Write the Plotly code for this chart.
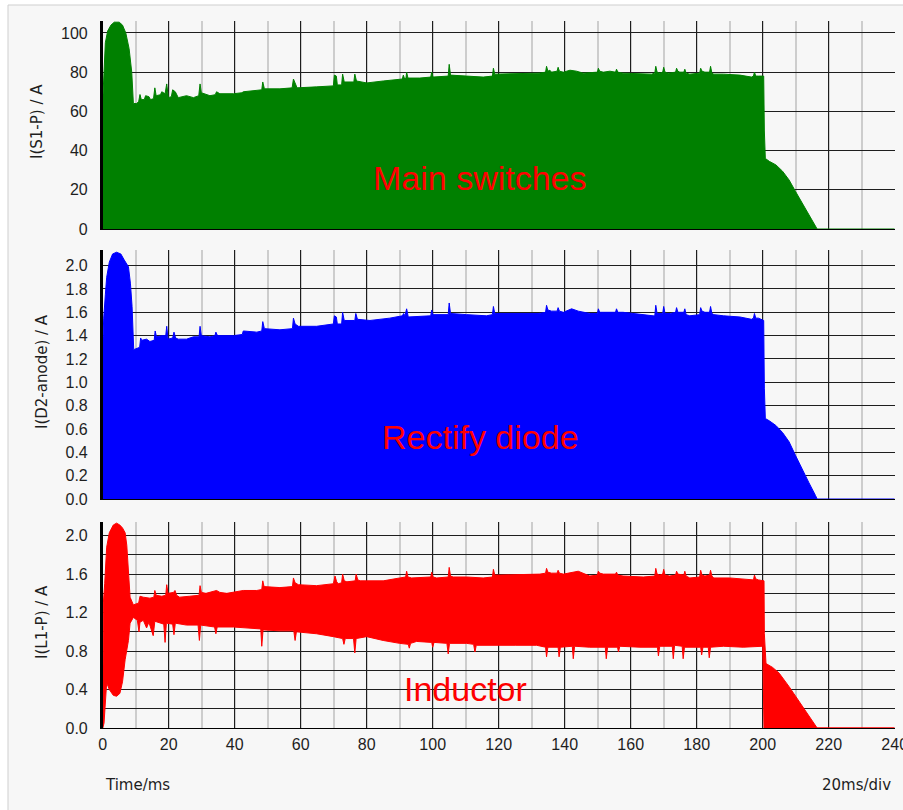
import plotly.graph_objects as go

# ---------------- data ----------------
# Panel 1: I(S1-P) upper envelope (A) vs time (ms)
s1_time = [0, 0.3, 0.8, 1.5, 2.5, 3.5, 5.0, 6.0, 7.0, 8.0, 8.8, 9.3, 10.3, 10.9, 11.3, 11.7, 12.6, 13.0, 14.0, 14.5,
           15.4, 15.8, 16.2, 17.5, 17.9, 18.9, 19.4, 19.9, 20.8, 21.2, 22.0, 22.9, 25.4, 27.5, 29.1, 29.5, 29.9, 32.5,
           34.1, 34.5, 35.5, 39.6, 42.2, 42.6, 46.7, 48.2, 48.5, 49.0, 53.7, 57.4, 57.8, 58.4, 58.9, 64.8, 69.9, 70.2,
           70.8, 71.1, 72.4, 72.7, 73.2, 76.1, 76.4, 76.9, 80, 85, 88, 90.8, 91.1, 91.5, 91.9, 92.1, 92.5, 96.1, 99.4,
           99.7, 100.1, 104.7, 105, 105.4, 110.3, 115.3, 118.1, 118.4, 118.8, 132.2, 134.2, 134.5, 134.9, 135.5, 136,
           137.7, 138, 138.4, 139.6, 141.6, 143.6, 145.6, 149.9, 150.2, 150.6, 151.7, 153.7, 155.4, 155.7, 156.1,
           157.7, 162.8, 166.3, 167.3, 167.6, 168.0, 168.8, 169.7, 170, 170.4, 171.4, 173.6, 173.9, 174.3, 174.9,
           176.1, 176.4, 176.8, 177.9, 180.9, 181.2, 181.6, 182.5, 183.9, 184.2, 184.6, 185.2, 188.1, 193.1, 196.6,
           197.2, 197.5, 197.9, 198.7, 200.3, 200.5, 200.8, 202, 204, 206, 208, 210, 212, 214, 216, 216.5, 240]
s1_current = [65, 78, 95, 101, 104, 105.5, 105.5, 104, 100, 92, 80, 64, 64, 65, 68.6, 66, 66, 68, 67.5, 66,
              66.5, 72, 68, 68.5, 70, 69, 74, 67, 67.5, 71, 70, 67, 68, 67, 68, 74, 69.5, 68,
              68.5, 70, 69, 69, 69.5, 70, 70.5, 71, 75, 71.5, 71.5, 72, 76.5, 74, 72, 72.5, 73, 78.5,
              78, 73.5, 73.5, 79, 75, 75, 79, 75.5, 74.5, 75.5, 76, 76.5, 78.5, 76.5, 77, 80, 77, 77, 77.5,
              80, 77.5, 78, 84, 78.5, 78, 77.5, 78, 82, 79, 79.5, 80, 83, 80.5, 81, 80,
              80.5, 82.5, 80.5, 80, 81, 80.5, 79.5, 80, 82, 80.5, 80, 80.5, 80, 81.5, 80,
              79.5, 79, 79, 79.5, 83, 80, 79.5, 80, 82.5, 80, 79.5, 80, 82, 80.5, 80,
              80, 81.5, 79.5, 79, 79.5, 82, 80.5, 80, 80, 83, 79.5, 79, 79, 78.5, 77.5,
              78, 80, 78, 78, 78, 50, 36, 34.5, 32.7, 29.5, 25, 19, 13, 7.5, 1.5, 0, 0]

# Panel 2: I(D2-anode) upper envelope (A)
d2_time = [0, 0.3, 0.8, 1.2, 2.0, 3.0, 4.2, 5.5, 6.5, 7.8, 8.4, 8.9, 9.4, 10.5, 11.2, 11.5, 11.8, 13.3, 14.3, 15.6,
           15.9, 16.3, 17.9, 19.1, 19.4, 19.8, 21.2, 21.6, 22.1, 22.9, 25.4, 27.5, 29.2, 29.5, 29.9, 32.5, 34.0, 34.3,
           34.8, 39.6, 42.3, 42.6, 46.7, 48.2, 48.5, 49.0, 53.7, 57.5, 57.8, 58.3, 59.3, 64.8, 69.9, 70.2, 70.8, 71.1,
           72.4, 72.7, 73.2, 76.4, 76.7, 77.2, 81, 87, 90.8, 91.2, 91.6, 92.1, 92.6, 99.4, 99.7, 100.1, 104.7, 105,
           105.4, 110.3, 116.3, 118.1, 118.4, 118.8, 132.2, 134.2, 134.5, 134.9, 136, 137.7, 138, 138.4, 139.6, 142.1,
           144.1, 147.6, 149.9, 150.2, 150.6, 152.2, 155.4, 155.7, 156.1, 157.7, 162.8, 166.8, 167.3, 167.6, 168.0,
           169.7, 170, 170.4, 172, 173.6, 173.9, 174.3, 176.1, 176.4, 176.8, 177.9, 180.9, 181.2, 181.6, 182.5, 183.9,
           184.2, 184.6, 185.2, 188.1, 193.1, 196.6, 197.2, 197.5, 197.9, 198.7, 200.3, 200.5, 200.8, 202, 204, 206,
           208, 210, 212, 214, 216, 216.5, 240]
d2_current = [1.30, 1.55, 1.75, 1.90, 2.03, 2.10, 2.115, 2.10, 2.05, 1.99, 1.85, 1.65, 1.28, 1.29, 1.30, 1.38, 1.36,
              1.37, 1.35, 1.36, 1.44, 1.39, 1.40, 1.40, 1.48, 1.37, 1.38, 1.43, 1.38, 1.37, 1.37, 1.39, 1.39, 1.48,
              1.40, 1.39, 1.40, 1.43, 1.40, 1.40, 1.41, 1.44, 1.43, 1.44, 1.52, 1.46, 1.45, 1.46, 1.55, 1.50, 1.48,
              1.48, 1.50, 1.57, 1.56, 1.50, 1.50, 1.60, 1.53, 1.53, 1.59, 1.54, 1.53, 1.55, 1.57, 1.59, 1.57, 1.63,
              1.56, 1.57, 1.62, 1.58, 1.58, 1.68, 1.59, 1.58, 1.57, 1.58, 1.65, 1.59, 1.59, 1.60, 1.66, 1.62, 1.61,
              1.61, 1.64, 1.61, 1.60, 1.63, 1.61, 1.59, 1.59, 1.63, 1.60, 1.60, 1.60, 1.63, 1.60, 1.60, 1.58, 1.57,
              1.57, 1.66, 1.59, 1.59, 1.65, 1.59, 1.59, 1.60, 1.64, 1.60, 1.60, 1.63, 1.58, 1.57, 1.58, 1.64, 1.61,
              1.60, 1.60, 1.65, 1.59, 1.58, 1.57, 1.56, 1.54, 1.55, 1.59, 1.55, 1.55, 1.53, 0.95, 0.69, 0.67, 0.63,
              0.57, 0.49, 0.37, 0.25, 0.14, 0.03, 0, 0]

# Panel 3: I(L1-P) ripple band, upper and lower envelopes (A)
l1_time_hi = [0, 0.2, 0.6, 1.2, 2.0, 3.2, 4.2, 5.2, 6.0, 6.8, 7.3, 7.8, 8.3, 9.3, 10.9, 11.3, 12.3, 14.3, 15.5, 15.8,
              16.2, 17.9, 19.1, 19.4, 19.8, 21.5, 21.9, 22.4, 23.3, 26.3, 29.2, 29.5, 29.9, 31.3, 34.5, 35.5, 37.6,
              42.6, 46.7, 48.2, 48.5, 48.9, 53.7, 57.5, 57.8, 58.3, 59.3, 64.8, 69.9, 70.4, 70.9, 71.4, 72.4, 72.7,
              73.2, 74.0, 76.5, 76.8, 77.3, 78.0, 85.0, 90.0, 91.8, 92.1, 92.5, 93.6, 99.4, 99.7, 100.1, 101.2, 104.7,
              105.0, 105.4, 106.2, 110.3, 115.3, 118.1, 118.4, 118.8, 120.4, 132.5, 134.2, 134.5, 134.9, 136, 137.7,
              138, 138.4, 139.6, 144.1, 147.6, 149.9, 150.2, 150.6, 151.7, 155.4, 155.7, 156.1, 157.7, 163.8, 167.3,
              167.6, 168.0, 168.8, 169.7, 170, 170.4, 171.8, 173.6, 173.9, 174.3, 176.1, 176.4, 176.8, 177.9, 180.9,
              181.2, 181.6, 182.5, 183.9, 184.2, 184.6, 185.2, 190.0, 196.6, 197.2, 197.5, 197.9, 198.7, 200.4, 200.5,
              201.0, 203.0, 205.0, 208.0, 211.1, 214.1, 216.1, 216.5, 240]
l1_current_hi = [0.0, 1.30, 1.50, 1.88, 2.03, 2.11, 2.13, 2.11, 2.08, 2.03, 1.90, 1.68, 1.36, 1.28, 1.30, 1.37, 1.36,
                 1.35, 1.36, 1.43, 1.38, 1.37, 1.38, 1.49, 1.40, 1.41, 1.43, 1.38, 1.36, 1.37, 1.38, 1.48, 1.41, 1.40,
                 1.43, 1.41, 1.40, 1.43, 1.43, 1.44, 1.53, 1.47, 1.46, 1.47, 1.56, 1.51, 1.49, 1.48, 1.50, 1.58, 1.52,
                 1.50, 1.51, 1.60, 1.53, 1.52, 1.53, 1.60, 1.54, 1.53, 1.53, 1.56, 1.57, 1.63, 1.57, 1.56, 1.57, 1.62,
                 1.57, 1.56, 1.57, 1.67, 1.58, 1.57, 1.57, 1.56, 1.57, 1.65, 1.59, 1.59, 1.60, 1.61, 1.66, 1.62, 1.61,
                 1.61, 1.64, 1.61, 1.60, 1.63, 1.58, 1.59, 1.63, 1.61, 1.60, 1.60, 1.62, 1.59, 1.58, 1.57, 1.58, 1.66,
                 1.60, 1.59, 1.60, 1.65, 1.59, 1.58, 1.59, 1.63, 1.60, 1.59, 1.63, 1.58, 1.56, 1.57, 1.64, 1.59, 1.58,
                 1.59, 1.64, 1.58, 1.56, 1.56, 1.54, 1.54, 1.59, 1.55, 1.54, 1.53, 0.98, 0.67, 0.63, 0.57, 0.43, 0.27,
                 0.12, 0.015, 0, 0]
l1_time_lo = [0, 0.4, 0.8, 1.2, 2.0, 3.2, 4.2, 5.2, 6.0, 6.8, 7.8, 8.3, 9.3, 10.5, 11.0, 11.3, 12.3, 13.3, 14.0, 15.3,
              15.8, 18.5, 18.9, 19.3, 21.2, 21.6, 22.0, 25.4, 28.9, 29.3, 29.7, 33.9, 34.3, 34.7, 39.6, 44.7, 47.9,
              48.2, 48.6, 53.7, 57.9, 58.3, 58.7, 64.8, 69.9, 72.7, 73.1, 73.5, 76.0, 76.4, 76.8, 80.0, 85.0, 90.0,
              92.6, 92.9, 93.3, 95.1, 99.7, 100.0, 100.4, 104.3, 104.7, 105.1, 110.3, 112.4, 112.8, 113.2, 120.4, 125,
              131.5, 134.2, 134.5, 134.9, 138.0, 138.3, 138.7, 142.3, 142.6, 143.0, 147.6, 152.3, 152.6, 153.0, 156.0,
              156.3, 156.7, 162.8, 168.1, 168.4, 168.8, 172.6, 172.9, 173.3, 175.6, 175.9, 176.3, 181.2, 181.5, 181.9,
              183.5, 183.8, 184.2, 188.1, 194.1, 200.0, 200.4, 240]
l1_current_lo = [0, 0.05, 0.30, 0.47, 0.40, 0.34, 0.33, 0.36, 0.48, 0.71, 0.91, 1.09, 1.15, 1.12, 1.00, 1.10, 1.12,
                 1.04, 1.10, 0.96, 1.11, 1.08, 0.89, 1.09, 1.08, 0.97, 1.09, 1.07, 1.07, 0.91, 1.07, 1.05, 0.98, 1.05,
                 1.05, 1.04, 1.03, 0.85, 1.02, 1.01, 1.01, 0.91, 1.00, 0.98, 0.95, 0.93, 0.87, 0.93, 0.93, 0.78, 0.93,
                 0.95, 0.91, 0.88, 0.87, 0.83, 0.88, 0.90, 0.89, 0.84, 0.89, 0.88, 0.77, 0.88, 0.88, 0.87, 0.79, 0.86,
                 0.86, 0.86, 0.86, 0.84, 0.74, 0.84, 0.84, 0.74, 0.84, 0.85, 0.72, 0.85, 0.84, 0.84, 0.72, 0.84, 0.84,
                 0.79, 0.85, 0.84, 0.84, 0.75, 0.85, 0.85, 0.72, 0.86, 0.85, 0.72, 0.84, 0.84, 0.76, 0.84, 0.84, 0.73,
                 0.84, 0.85, 0.84, 0.85, 0, 0]

x_ticks = [0, 20, 40, 60, 80, 100, 120, 140, 160, 180, 200, 220, 240]
panel_titles = ["I(S1-P) / A", "I(D2-anode) / A", "I(L1-P) / A"]
panel_labels = ["Main switches", "Rectify diode", "Inductor"]

# ---------------- figure ----------------
W, H = 903, 810
GREEN, BLUE, RED = "#008000", "#0000ff", "#ff0000"
TICKFONT = dict(family="Tahoma, Liberation Sans, Arial", size=16, color="#1e1e1e")
TITLEFONT = dict(family="DejaVu Sans", size=15, color="#1e1e1e")


def fx(p):
    return p / W


def fy(p):
    return 1 - p / H


fig = go.Figure()

fig.add_trace(go.Scatter(x=s1_time, y=s1_current, mode="lines", line=dict(color=GREEN, width=1),
                         fill="tozeroy", fillcolor=GREEN, xaxis="x", yaxis="y", showlegend=False))
fig.add_trace(go.Scatter(x=d2_time, y=d2_current, mode="lines", line=dict(color=BLUE, width=1),
                         fill="tozeroy", fillcolor=BLUE, xaxis="x2", yaxis="y2", showlegend=False))
fig.add_trace(go.Scatter(x=l1_time_hi + l1_time_lo[::-1], y=l1_current_hi + l1_current_lo[::-1],
                         mode="lines", line=dict(color=RED, width=1), fill="toself", fillcolor=RED,
                         xaxis="x3", yaxis="y3", showlegend=False))

xdom = [fx(102.7), fx(894.7)]
ydoms = [[fy(229), fy(21)], [fy(499), fy(250)], [fy(728), fy(521.7)]]
yranges = [[0, 106.1], [0, 2.134], [0, 2.145]]

common_x = dict(range=[0, 240], tickmode="array", tickvals=x_ticks, showgrid=True, gridcolor="#1e1e1e",
                gridwidth=1.2, minor=dict(dtick=10, tick0=0, showgrid=True, gridcolor="#cdcdcd", gridwidth=1.5),
                showline=True, linecolor="#000000", linewidth=1, zeroline=False, layer="below traces",
                ticks="", tickfont=TICKFONT, fixedrange=True, domain=xdom, automargin=False)

layout_axes = {}
for i in range(3):
    sfx = "" if i == 0 else str(i + 1)
    xa = dict(common_x)
    xa["anchor"] = "y" + sfx
    xa["showticklabels"] = (i == 2)
    if i == 2:
        xa["ticklabelstandoff"] = 2
        xa["ticklabeloverflow"] = "allow"
    layout_axes["xaxis" + sfx] = xa
    ya = dict(range=yranges[i], domain=ydoms[i], anchor="x" + sfx, showgrid=True, gridcolor="#1e1e1e",
              gridwidth=1.2, showline=True, linecolor="#000000", linewidth=2.5, zeroline=False,
              ticks="", tickfont=TICKFONT, ticklabelstandoff=9, fixedrange=True, automargin=False)
    if i == 0:
        ya.update(tickmode="linear", tick0=0, dtick=20)
    elif i == 1:
        ya.update(tickmode="linear", tick0=0, dtick=0.2, tickformat=".1f")
    else:
        ya.update(tickmode="linear", tick0=0, dtick=0.4, tickformat=".1f",
                  minor=dict(dtick=0.2, tick0=0, showgrid=True, gridcolor="#1e1e1e", gridwidth=1.2))
    layout_axes["yaxis" + sfx] = ya

annotations = []
title_pos = [(37, 122), (42, 372), (42, 622)]
for t, (px, py) in zip(panel_titles, title_pos):
    annotations.append(dict(text=t, x=fx(px), y=fy(py), xref="paper", yref="paper", showarrow=False,
                            textangle=-90, font=TITLEFONT, xanchor="center", yanchor="middle"))
label_pos = [(480, 178), (480, 437), (465, 689)]
for t, (px, py) in zip(panel_labels, label_pos):
    annotations.append(dict(text=t, x=fx(px), y=fy(py), xref="paper", yref="paper", showarrow=False,
                            font=dict(family="Liberation Sans, Arial", size=34, color=RED),
                            xanchor="center", yanchor="middle"))
annotations.append(dict(text="Time/ms", x=fx(103), y=fy(785), xref="paper", yref="paper", showarrow=False,
                        font=TITLEFONT, xanchor="left", yanchor="middle"))
annotations.append(dict(text="20ms/div", x=fx(893), y=fy(785), xref="paper", yref="paper", showarrow=False,
                        font=TITLEFONT, xanchor="right", yanchor="middle"))

fig.update_layout(
    width=W, height=H, margin=dict(l=0, r=0, t=0, b=0, pad=0, autoexpand=False),
    paper_bgcolor="#ffffff", plot_bgcolor="rgba(0,0,0,0)",
    shapes=[dict(type="rect", xref="paper", yref="paper", x0=fx(8), x1=fx(915), y0=fy(820), y1=fy(5),
                 fillcolor="#f7f7f7", line=dict(color="#cfcfcf", width=1), layer="below")],
    annotations=annotations,
    **layout_axes,
)

# remove the default 8px page margin so the 903x810 figure fills the window exactly
fig.write_html("out.html", config={"responsive": False, "displayModeBar": False},
               post_script="document.body.style.margin='0';document.body.style.overflow='hidden';")
